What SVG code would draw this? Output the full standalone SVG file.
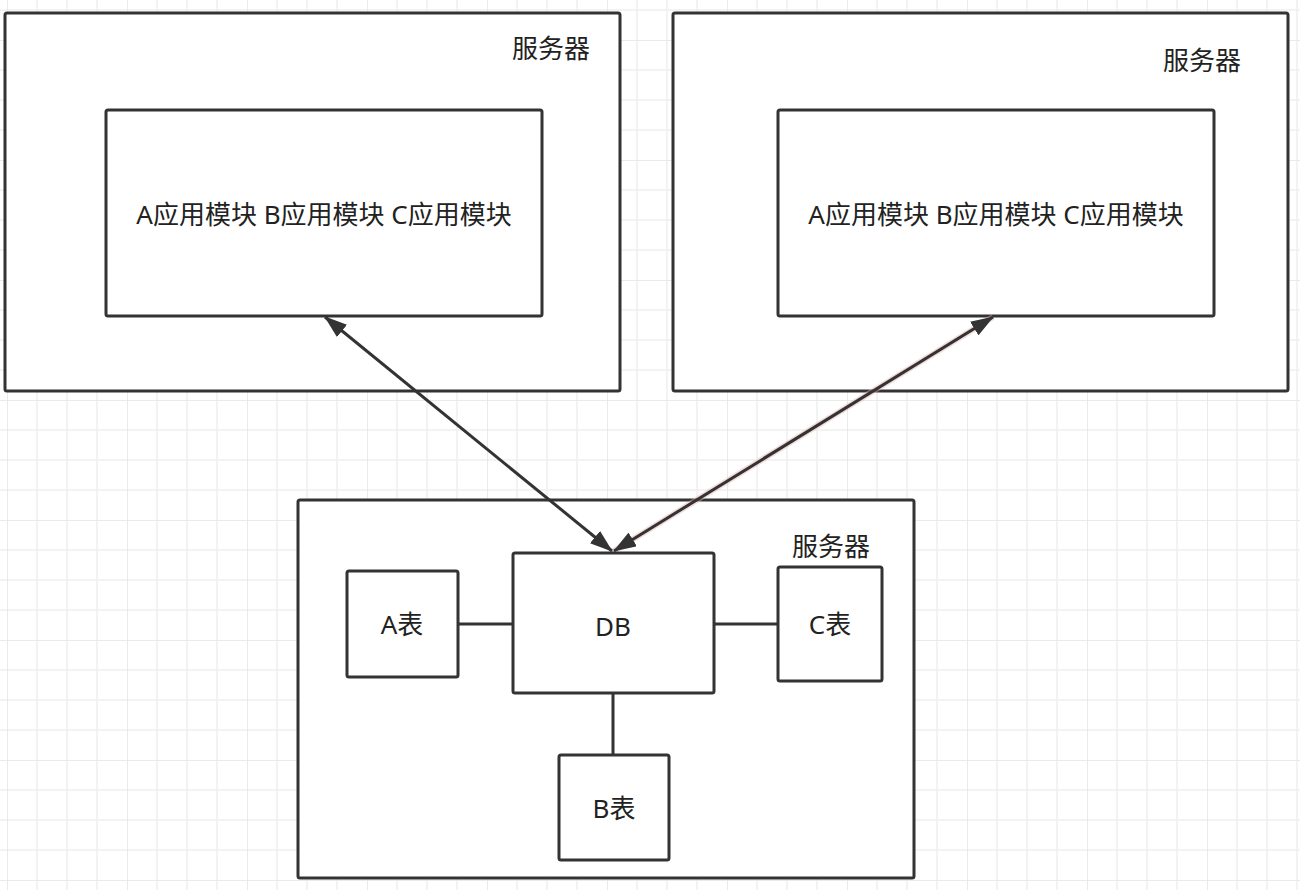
<svg xmlns="http://www.w3.org/2000/svg" width="1300" height="890" viewBox="0 0 1300 890">
  <defs>
    <pattern id="grid" patternUnits="userSpaceOnUse" x="7" y="40" width="120" height="120">
      <path d="M30 0V120M60 0V120M90 0V120M0 30H120M0 60H120M0 90H120" stroke="#f0f0f0" stroke-width="1.5" fill="none"/>
      <path d="M0 0V120M0 0H120" stroke="#e4e4e4" stroke-width="1.5" fill="none"/>
    </pattern>
    <marker id="arrow" viewBox="0 0 23 16" refX="22" refY="8" markerWidth="23" markerHeight="16" markerUnits="userSpaceOnUse" orient="auto-start-reverse">
      <path d="M0 0L23 8L0 16Z" fill="#333"/>
    </marker>
    <style>
      .box{fill:#fff;stroke:#333;stroke-width:3}
      .conn{stroke:#333;stroke-width:3;fill:none}
      .t{font-family:"Noto Sans","Noto Sans CJK SC",sans-serif;font-size:26px;fill:#222;text-anchor:middle;dominant-baseline:central}
    </style>
  </defs>
  <rect width="1300" height="890" fill="#fff"/>
  <rect width="1300" height="890" fill="url(#grid)"/>

  <g id="server-left">
    <rect class="box" x="5" y="13" width="615" height="378" rx="2"/>
    <text class="t" x="551" y="48">服务器</text>
  </g>
  <g id="apps-left">
    <rect class="box" x="106" y="110" width="436" height="206" rx="2"/>
    <text class="t" x="324" y="214">A应用模块 B应用模块 C应用模块</text>
  </g>

  <g id="server-right">
    <rect class="box" x="673" y="13" width="615" height="378" rx="2"/>
    <text class="t" x="1202" y="60">服务器</text>
  </g>
  <g id="apps-right">
    <rect class="box" x="778" y="110" width="436" height="206" rx="2"/>
    <text class="t" x="996" y="214">A应用模块 B应用模块 C应用模块</text>
  </g>

  <g id="server-bottom">
    <rect class="box" x="298" y="500" width="616" height="378" rx="2"/>
    <text class="t" x="831" y="546">服务器</text>
  </g>

  <g id="connectors">
    <line class="conn" x1="325" y1="317" x2="612" y2="551" marker-start="url(#arrow)" marker-end="url(#arrow)"/>
    <line x1="993" y1="317" x2="614" y2="551" stroke="#e8b0b0" stroke-width="6" opacity="0.45"/>
    <line class="conn" x1="993" y1="317" x2="614" y2="551" marker-start="url(#arrow)" marker-end="url(#arrow)"/>
    <line class="conn" x1="458" y1="624" x2="513" y2="624"/>
    <line class="conn" x1="714" y1="624" x2="778" y2="624"/>
    <line class="conn" x1="613" y1="693" x2="613" y2="755"/>
  </g>

  <g id="db">
    <rect class="box" x="513" y="553" width="201" height="140" rx="2"/>
    <text class="t" x="613" y="626">DB</text>
  </g>
  <g id="table-a">
    <rect class="box" x="347" y="571" width="111" height="106" rx="2"/>
    <text class="t" x="402" y="624">A表</text>
  </g>
  <g id="table-c">
    <rect class="box" x="778" y="567" width="104" height="114" rx="2"/>
    <text class="t" x="830" y="624">C表</text>
  </g>
  <g id="table-b">
    <rect class="box" x="559" y="755" width="110" height="105" rx="2"/>
    <text class="t" x="614" y="808">B表</text>
  </g>
</svg>
